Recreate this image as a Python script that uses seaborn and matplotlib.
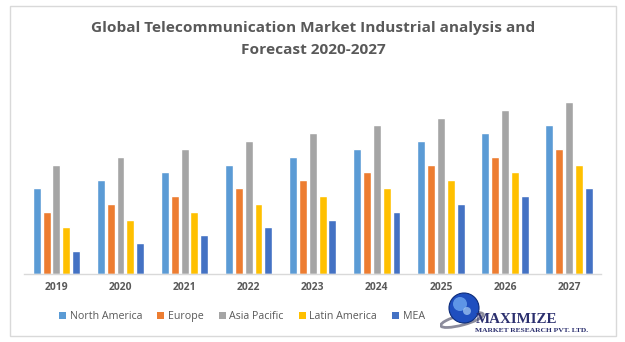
import matplotlib
matplotlib.use("Agg")
import matplotlib.pyplot as plt
import seaborn as sns
import pandas as pd
from matplotlib.patches import Rectangle, Circle, Ellipse

years = ["2019", "2020", "2021", "2022", "2023", "2024", "2025", "2026", "2027"]
regions = ["North America", "Europe", "Asia Pacific", "Latin America", "MEA"]
north_america = [86, 94, 102, 109, 117, 125, 133, 141, 149]
europe = [62, 70, 78, 86, 94, 102, 109, 117, 125]
asia_pacific = [109, 117, 125, 133, 141, 149, 156, 164, 172]
latin_america = [47, 54, 62, 70, 78, 86, 94, 102, 109]
mea = [23, 31, 39, 47, 54, 62, 70, 78, 86]
colors = ["#5B9BD5", "#ED7D31", "#A5A5A5", "#FFC000", "#4472C4"]

series = [north_america, europe, asia_pacific, latin_america, mea]
rows = []
for reg, vals in zip(regions, series):
    for y, v in zip(years, vals):
        rows.append({"Year": y, "Region": reg, "Value": v})
df = pd.DataFrame(rows)

sns.set_theme(style="white")
plt.rcParams["font.family"] = ["Open Sans", "DejaVu Sans"]

W, H = 625, 342
fig = plt.figure(figsize=(W / 100, H / 100), dpi=100)
fig.patch.set_facecolor("white")

ax = fig.add_axes([24.4 / W, 1 - 274 / H, (601 - 24.4) / W, (274 - 95) / H])
sns.barplot(data=df, x="Year", y="Value", hue="Region", hue_order=regions,
            order=years, palette=colors, width=0.77, gap=0.2, ax=ax,
            legend=False, saturation=1)
ax.set_xlim(-0.5, 8.5)
ax.set_ylim(0, 179)
ax.set_xlabel("")
ax.set_ylabel("")
ax.set_yticks([])
for s in ["top", "right", "left"]:
    ax.spines[s].set_visible(False)
ax.spines["bottom"].set_color("#d9d9d9")
ax.spines["bottom"].set_linewidth(1)
ax.tick_params(axis="x", length=0, pad=6, labelsize=7.4, labelcolor="#595959")
for lbl in ax.get_xticklabels():
    lbl.set_fontweight("bold")

# Title
fig.text(313 / W, 1 - 28 / H, "Global Telecommunication Market Industrial analysis and",
         ha="center", va="center", fontsize=11.05, fontweight="bold", color="#595959")
fig.text(313 / W, 1 - 49.5 / H, "Forecast 2020-2027",
         ha="center", va="center", fontsize=11.05, fontweight="bold", color="#595959")

# Legend
handles = [Rectangle((0, 0), 1, 1, facecolor=c, edgecolor="none") for c in colors]
fig.legend(handles, regions, loc="center", bbox_to_anchor=(242 / W, 1 - 316.5 / H),
           ncol=5, frameon=False, fontsize=7.7, handlelength=0.65, handleheight=0.65,
           handletextpad=0.35, columnspacing=1.4, labelcolor="#595959")

# Border
fig.patches.append(Rectangle((10 / W, 1 - 336 / H), (616 - 10) / W, (336 - 6) / H,
                             transform=fig.transFigure, facecolor="none",
                             edgecolor="#d9d9d9", linewidth=1))

# Logo
lax = fig.add_axes([440 / W, 1 - 330 / H, 50 / W, 40 / H])
lax.set_xlim(0, 50)
lax.set_ylim(0, 40)
lax.set_aspect("equal")
lax.axis("off")
lax.add_patch(Ellipse((22, 10), 44, 10, angle=15, facecolor="none", edgecolor="#8c8c9c", linewidth=2))
lax.add_patch(Circle((24, 22), 15, facecolor="#1f4fbf", edgecolor="#0d2c7a", linewidth=0.8))
lax.add_patch(Circle((20, 26), 7, facecolor="#6fa8f0", edgecolor="none", alpha=0.8))
lax.add_patch(Circle((27, 19), 4, facecolor="#a9cdf5", edgecolor="none", alpha=0.7))
fig.text(476 / W, 1 - 319.5 / H, "MAXIMIZE", ha="left", va="center",
         fontsize=10.8, fontweight="bold", color="#2b2f6e",
         family=["Liberation Serif", "DejaVu Serif"])
fig.text(475 / W, 1 - 330 / H, "MARKET RESEARCH PVT. LTD.", ha="left", va="center",
         fontsize=5.4, fontweight="bold", color="#2b2f6e",
         family=["Liberation Serif", "DejaVu Serif"])

fig.savefig("out.png", dpi=100)
